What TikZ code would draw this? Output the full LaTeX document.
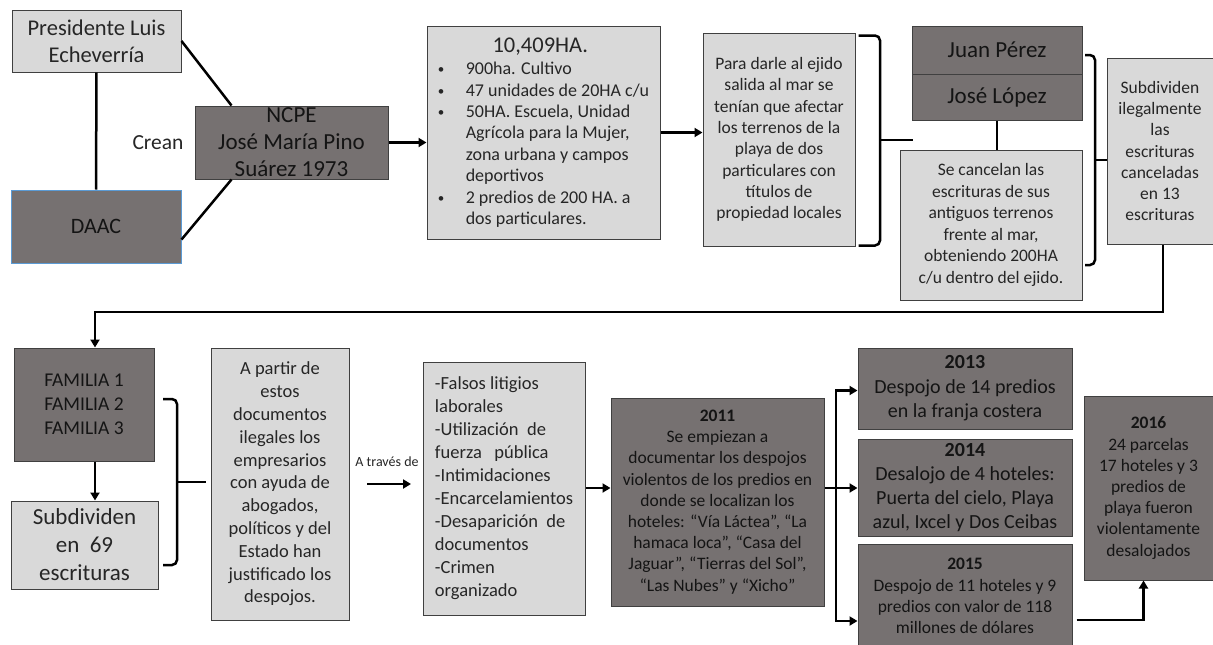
\documentclass[tikz,border=0pt]{standalone}
\usepackage{fontspec}
\setmainfont{Carlito}
\usetikzlibrary{arrows.meta}
\definecolor{grisclaro}{HTML}{D9D9D9}
\definecolor{grisoscuro}{HTML}{767171}
\definecolor{borde}{HTML}{404040}
\definecolor{bordeazul}{HTML}{5B9BD5}
\newcommand{\tam}[2]{\fontsize{#1}{#2}\selectfont}
\newcommand{\bul}{\makebox[28pt][l]{\raisebox{1pt}{\tam{13}{13}\textbullet}}}
\newcommand{\sang}{\hspace*{28pt}}

\begin{document}
\begin{tikzpicture}[x=1pt,y=-1pt,
    caja/.style={draw=borde, line width=1pt, fill=grisclaro, inner sep=0pt, align=center, text=black!85},
    cajaosc/.style={caja, fill=grisoscuro, text=black!92},
    linea/.style={line width=2.5pt},
    flecha/.style={line width=2.5pt, -{Triangle[length=8pt,width=9pt]}},
    llave/.style={line width=2.5pt, rounded corners=5pt}]
\fill[white] (0,0) rectangle (1213,645);
\useasboundingbox (0,0) rectangle (1213,645);

%fila de arriba
\node[caja, minimum width=169pt, minimum height=62pt, font=\tam{22.5}{27}] (presidente) at (96.5,41) {Presidente Luis\\Echeverría};
\node[cajaosc, draw=bordeazul, minimum width=170pt, minimum height=73pt, font=\tam{22}{27}] (daac) at (96,226.5) {DAAC};
\node[font=\tam{21.5}{26}, text=black!85] (crean) at (158,143) {Crean};
\node[cajaosc, minimum width=193pt, minimum height=73pt, font=\tam{23}{27}] (ncpe) at (291.5,142.5) {NCPE\\José María Pino\\Suárez 1973};

%caja de las hectareas
\node[caja, align=left, minimum width=233pt, minimum height=213pt, font=\tam{18}{21.4}] (hectareas) at (543.5,132.5)
  {\makebox[205pt][c]{\tam{22.5}{27}10,409HA.}\\[1pt]
   \bul 900ha. Cultivo\\
   \bul 47 unidades de 20HA c/u\\
   \bul 50HA. Escuela, Unidad\\
   \sang Agrícola para la Mujer,\\
   \sang zona urbana y campos\\
   \sang deportivos\\
   \bul 2 predios de 200 HA. a\\
   \sang dos particulares.};

\node[caja, minimum width=152pt, minimum height=213pt, font=\tam{17.5}{21.3}] (ejido) at (779,139.5)
  {Para darle al ejido\\salida al mar se\\tenían que afectar\\los terrenos de la\\playa de dos\\particulares con\\títulos de\\propiedad locales};

\node[cajaosc, minimum width=170pt, minimum height=48pt, font=\tam{23}{28}] (perez) at (997,50) {Juan Pérez};
\node[cajaosc, minimum width=170pt, minimum height=46pt, font=\tam{23}{28}] (lopez) at (997,97) {José López};
\node[caja, minimum width=182pt, minimum height=150pt, font=\tam{17.5}{21.5}] (cancelan) at (991,225)
  {Se cancelan las\\escrituras de sus\\antiguos terrenos\\frente al mar,\\obteniendo 200HA\\c/u dentro del ejido.};
\node[caja, minimum width=106pt, minimum height=186pt, font=\tam{17.5}{21.2}] (subdiv) at (1160,151)
  {Subdividen\\ilegalmente\\las\\escrituras\\canceladas\\en 13\\escrituras};

%fila de abajo
\node[cajaosc, minimum width=140pt, minimum height=113pt, font=\tam{19.5}{24}] (familia) at (84,404.5) {FAMILIA 1\\FAMILIA 2\\FAMILIA 3};
\node[caja, minimum width=147pt, minimum height=88pt, font=\tam{23}{28}] (sub69) at (84.5,545) {Subdividen\\en~ 69\\escrituras};
\node[caja, minimum width=138pt, minimum height=272pt, font=\tam{18.5}{22.8}] (partir) at (280,484)
  {A partir de\\estos\\documentos\\ilegales los\\empresarios\\con ayuda de\\abogados,\\políticos y del\\Estado han\\justificado los\\despojos.};
\node[font=\tam{14}{17}, text=black!85] (traves) at (387,462) {A través de};
\node[caja, align=left, inner xsep=10pt, minimum width=162pt, minimum height=253pt, font=\tam{18.5}{23}] (falsos) at (504,488.5)
  {-Falsos litigios\\laborales\\-Utilización~ de\\fuerza~~ pública\\-Intimidaciones\\-Encarcelamientos\\-Desaparición~ de\\documentos\\-Crimen\\organizado};
\node[cajaosc, minimum width=213pt, minimum height=208pt, font=\tam{17.5}{21.2}] (a2011) at (717.5,502)
  {\textbf{2011}\\Se empiezan a\\documentar los despojos\\violentos de los predios en\\donde se localizan los\\hoteles: “Vía Láctea”, “La\\hamaca loca”, “Casa del\\Jaguar”, “Tierras del Sol”,\\“Las Nubes” y “Xicho”};
\node[cajaosc, minimum width=214pt, minimum height=81pt, font=\tam{20}{24.5}] (a2013) at (965,388.5)
  {\textbf{2013}\\Despojo de 14 predios\\en la franja costera};
\node[cajaosc, minimum width=214pt, minimum height=97pt, font=\tam{20}{24}] (a2014) at (965,487.5)
  {\textbf{2014}\\Desalojo de 4 hoteles:\\Puerta del cielo, Playa\\azul, Ixcel y Dos Ceibas};
\node[cajaosc, minimum width=214pt, minimum height=104pt, font=\tam{17.5}{21.3}] (a2015) at (965,596)
  {\textbf{2015}\\Despojo de 11 hoteles y 9\\predios con valor de 118\\millones de dólares};
\node[cajaosc, minimum width=129pt, minimum height=184pt, font=\tam{17.5}{21.2}] (a2016) at (1148.5,488)
  {\textbf{2016}\\24 parcelas\\17 hoteles y 3\\predios de\\playa fueron\\violentamente\\desalojados};

%conectores de arriba
\draw[linea] (presidente.south) -- (daac.north);
\draw[linea] (presidente.east) -- ([xshift=37pt]ncpe.north west);
\draw[linea] ([yshift=-13pt]daac.east) -- ([xshift=37pt]ncpe.south west);
\draw[flecha] (ncpe.east) -- (ncpe.east -| hectareas.west);
\draw[flecha] (hectareas.east) -- (hectareas.east -| ejido.west);
\draw[linea] (lopez.south) -- (lopez.south |- cancelan.north);

%llaves
\coordinate (llave1) at (913,140);
\draw[llave] (ejido.north east) ++(3,3) -| (llave1 -| 880,0) |- ([xshift=3pt,yshift=1pt]ejido.south east);
\draw[linea] (880,140) -- (llave1);
\draw[llave] (1085,55) -| (1095,160) |- (1085,265);
\draw[linea] (1095,160) -- (subdiv.west |- 0,160);

%bajada a la fila de abajo
\draw[flecha] (subdiv.south -| 1163,0) -- (1163,312) -| ([xshift=11pt]familia.north);
\draw[flecha] ([xshift=11pt]familia.south) -- ([xshift=11pt]familia.south |- sub69.north);
\draw[llave] (163,399) -| (177,482) |- (163,565);
\draw[linea] (177,482) -- ([xshift=-5pt]partir.west |- 0,482);

%flecha de "a traves de"
\coordinate (t1) at (367,484);
\coordinate (t2) at (411,484);
\draw[flecha] (t1) -- (t2);
\draw[flecha] (falsos.east |- 0,488) -- (a2011.west |- 0,488);

%ramas de 2011
\coordinate (rama) at (836,488);
\draw[linea] (a2011.east |- rama) -- (rama);
\draw[flecha] (rama) |- ([yshift=-2pt]a2013.west);
\draw[flecha] (rama) -- (rama -| a2014.west);
\draw[flecha] (rama) |- ([yshift=-25pt]a2015.west);
\draw[flecha] ([xshift=4pt,yshift=-24pt]a2015.east) -| ([xshift=-5pt]a2016.south);

\end{tikzpicture}
\end{document}
